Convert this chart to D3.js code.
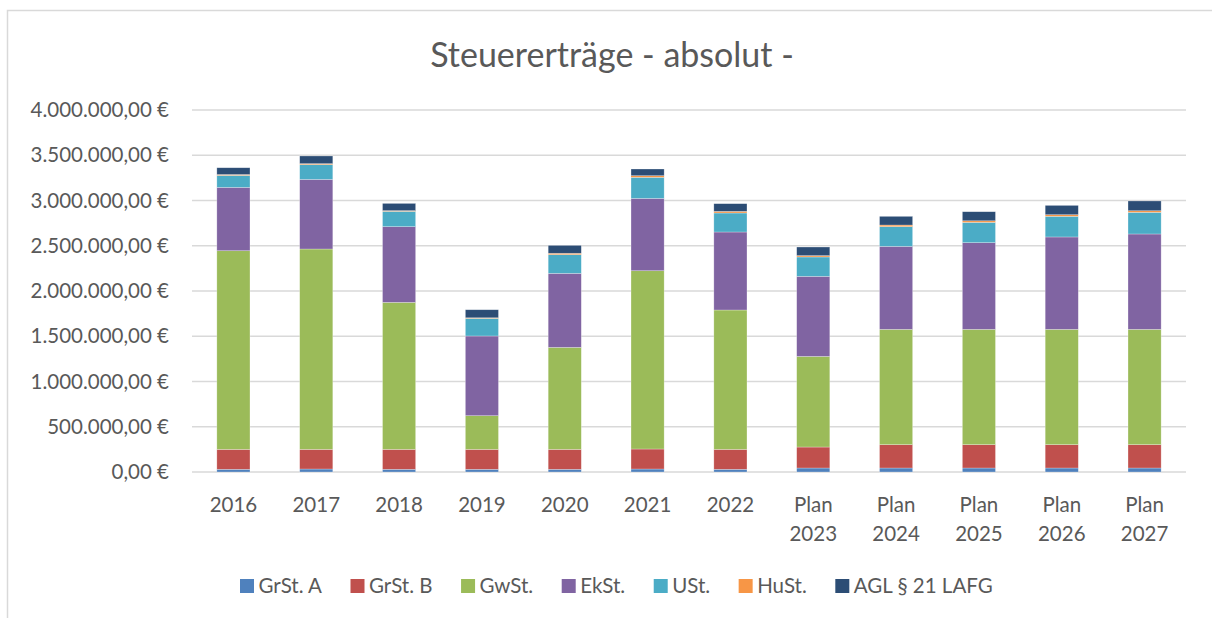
<!DOCTYPE html>
<html>
<head>
<meta charset="utf-8">
<script src="https://cdn.jsdelivr.net/npm/d3@7"></script>
<style>
  html, body { margin: 0; padding: 0; background: #fff; }
  svg { display: block; font-family: Lato, "Open Sans", sans-serif; }
</style>
</head>
<body>
<div id="chart"></div>
<script>
const categories = ['2016', '2017', '2018', '2019', '2020', '2021', '2022',
  'Plan 2023', 'Plan 2024', 'Plan 2025', 'Plan 2026', 'Plan 2027']

const seriesNames = ['GrSt. A', 'GrSt. B', 'GwSt.', 'EkSt.', 'USt.', 'HuSt.', 'AGL § 21 LAFG']
const colors = ['#4f81bd', '#c0504d', '#9bbb59', '#8064a2', '#4bacc6', '#f79646', '#2c4d75']

// values (euro)
const grStA = [30000, 33000, 30000, 30000, 30000, 33000, 30000, 44000, 44000, 44000, 44000, 44000]
const grStB = [220000, 217000, 220000, 220000, 220000, 221000, 220000, 232000, 258000, 258000, 258000, 258000]
const gwSt  = [2195000, 2214000, 1624000, 372000, 1127000, 1970000, 1540000, 1001000, 1274000, 1274000, 1274000, 1274000]
const ekSt  = [700000, 769000, 837000, 881000, 818000, 799000, 862000, 885000, 917000, 958000, 1021000, 1054000]
const uSt   = [132000, 163000, 169000, 194000, 206000, 233000, 210000, 214000, 218000, 224000, 228000, 239000]
const huSt  = [10000, 11000, 8000, 7000, 16000, 18000, 18000, 15000, 18000, 18000, 18000, 18000]
const agl   = [75000, 85000, 80000, 89000, 87000, 74000, 85000, 95000, 96000, 100000, 103000, 108000]

const yTicks = [0, 500000, 1000000, 1500000, 2000000, 2500000, 3000000, 3500000, 4000000]
const title = 'Steuererträge - absolut -'

const W = 1212, H = 618
const PLOT = { left: 192, right: 1186, top: 110, bottom: 472 }

const seriesValues = [grStA, grStB, gwSt, ekSt, uSt, huSt, agl]
const rows = categories.map((c, i) => {
  const r = { cat: c }
  seriesNames.forEach((s, k) => { r[s] = seriesValues[k][i] })
  return r
})
const stacked = d3.stack().keys(seriesNames)(rows)

const de = d3.formatLocale({ decimal: ',', thousands: '.', grouping: [3], currency: ['', ' €'] })
const fmt = v => de.format(',.2f')(v) + ' €'

const svg = d3.select('#chart').append('svg')
  .attr('width', W).attr('height', H)

// chart frame
svg.append('path')
  .attr('d', `M7.5,${H} V10.5 H${W}`)
  .attr('fill', 'none').attr('stroke', '#d9d9d9').attr('stroke-width', 1.5)

svg.append('text')
  .attr('x', 612).attr('y', 67)
  .attr('text-anchor', 'middle')
  .style('font-size', '34px').style('fill', '#595959')
  .text(title)

const x = d3.scaleBand().domain(categories)
  .range([PLOT.left, PLOT.right]).paddingInner(0.6).paddingOuter(0.3)
const y = d3.scaleLinear().domain([0, 4000000]).range([PLOT.bottom, PLOT.top])

// ── gridlines ───────────────────────────────────────────────
svg.append('g').selectAll('line').data(yTicks)
  .join('line')
  .attr('x1', PLOT.left).attr('x2', PLOT.right)
  .attr('y1', d => y(d)).attr('y2', d => y(d))
  .attr('stroke', '#d9d9d9').attr('stroke-width', 1.5)

// ── y axis labels ───────────────────────────────────────────
const gY = svg.append('g').attr('transform', `translate(${PLOT.left - 23},0)`)
  .call(d3.axisLeft(y).tickValues(yTicks).tickFormat(fmt).tickSize(0).tickPadding(0))
gY.select('.domain').remove()
gY.selectAll('text').style('font-size', '20.5px').style('fill', '#595959')
  .style('font-family', 'Lato, "Open Sans", sans-serif')

// ── bars ────────────────────────────────────────────────────
svg.append('g').selectAll('g').data(stacked)
  .join('g').attr('fill', (d, i) => colors[i])
  .selectAll('rect').data(d => d)
  .join('rect')
  .attr('x', d => x(d.data.cat))
  .attr('width', x.bandwidth())
  .attr('y', d => y(d[1]))
  .attr('height', d => y(d[0]) - y(d[1]))
  .attr('stroke', 'rgba(255,255,255,0.45)').attr('stroke-width', 0.6)

// ── x axis labels ───────────────────────────────────────────
const gX = svg.append('g')
gX.selectAll('text').data(categories)
  .join('text')
  .attr('x', d => x(d) + x.bandwidth() / 2)
  .attr('y', 512)
  .attr('text-anchor', 'middle')
  .style('font-size', '20.5px').style('fill', '#595959')
  .each(function (d) {
    const parts = d.split(' ')
    d3.select(this).selectAll('tspan').data(parts)
      .join('tspan')
      .attr('x', x(d) + x.bandwidth() / 2)
      .attr('dy', (p, i) => i === 0 ? 0 : 28.5)
      .text(p => p)
  })

// ── legend ──────────────────────────────────────────────────
const legend = svg.append('g')
let lx = 240
seriesNames.forEach((name, i) => {
  const item = legend.append('g').attr('transform', `translate(${lx},579)`)
  item.append('rect').attr('width', 14).attr('height', 14).attr('fill', colors[i])
  const t = item.append('text').attr('x', 18.5).attr('y', 14)
    .style('font-size', '20.5px').style('fill', '#595959').text(name)
  lx += 18.5 + t.node().getComputedTextLength() + 28.5
})
</script>
</body>
</html>
